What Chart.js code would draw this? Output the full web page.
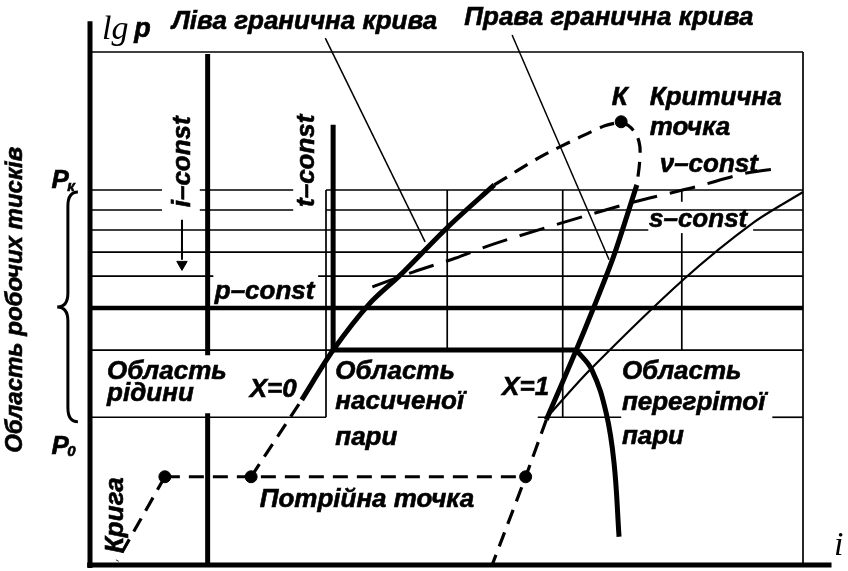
<!DOCTYPE html>
<html>
<head>
<meta charset="utf-8">
<script src="https://cdn.jsdelivr.net/npm/chart.js"></script>
<style>
html, body { margin: 0; padding: 0; background: #fff; }
#wrap { width: 848px; height: 571px; }
</style>
</head>
<body>
<div id="wrap"><canvas id="myChart" width="848" height="571"></canvas></div>
<script>
// i (enthalpy) and lg p, both in % of the frame

// thin isobars: [lg p, i from, i to]
var isobars = [
    [100, 0, 100],
    [73.1, 0, 10.1], [73.1, 15.4, 28.5], [73.1, 33.1, 100],
    [69.2, 0, 10.1], [69.2, 15.4, 28.5], [69.2, 33.1, 100],
    [65.3, 0, 78.3], [65.3, 93.0, 100],
    [61.0, 0, 100],
    [56.3, 0, 17.3], [56.3, 32.0, 100],
    [41.9, 0, 34.1], [41.9, 68.2, 100],
    [28.8, 0, 33.1], [28.8, 62.8, 74.5], [28.8, 95.7, 100]
]
// p-const and the boiling line
var workIsobar = [[50.1, 0, 100]]
var boiling = [[41.9, 34.1, 68.2]]

// thin verticals: [i, lg p from, lg p to]
var thinVerticals = [
    [33.1, 28.8, 73.1],
    [50.1, 41.9, 73.1],
    [66.3, 28.8, 73.1],
    [83.0, 70.8, 73.1], [83.0, 41.9, 64.7],
    [100, 0, 100]
]
// i-const and t-const
var thickVerticals = [
    [16.5, 40.9, 99.6], [16.5, 0, 29.6],
    [34.1, 41.9, 85.8]
]

// saturation curves
var liquidLow = [{x: 22.6, y: 17.2}, {x: 29.7, y: 32.2}]
var liquidLine = [{x: 29.7, y: 32.2}, {x: 34.1, y: 41.9}, {x: 39.3, y: 51.1}, {x: 43.5, y: 56.5}, {x: 50.2, y: 65.9}, {x: 56.7, y: 74.1}]
var liquidHigh = [{x: 56.7, y: 74.1}, {x: 63.1, y: 79.5}, {x: 68.7, y: 83.4}, {x: 72.2, y: 85.6}, {x: 74.5, y: 86.4}]
var vaporHigh = [{x: 74.5, y: 86.4}, {x: 75.9, y: 85.2}, {x: 77.0, y: 82.5}, {x: 77.1, y: 78.9}, {x: 76.7, y: 74.1}]
var vaporLine = [{x: 76.7, y: 74.1}, {x: 73.4, y: 60.0}, {x: 70.5, y: 49.7}, {x: 68.2, y: 41.9}, {x: 64.0, y: 28.3}]
var vaporLow = [{x: 64.0, y: 28.3}, {x: 61.1, y: 17.2}, {x: 56.4, y: 0}]

var tripleLine = [{x: 10.5, y: 17.2}, {x: 61.1, y: 17.2}]
var iceLine = [{x: 10.5, y: 17.2}, {x: 3.8, y: 0.8}]
var triplePoints = [{x: 10.5, y: 17.2}, {x: 22.6, y: 17.2}, {x: 61.1, y: 17.2}]
var criticalPoint = [{x: 74.5, y: 86.4}]

var isentrope = [{x: 64.1, y: 28.8}, {x: 70.1, y: 38.0}, {x: 83.2, y: 55.6}, {x: 93.0, y: 66.7}, {x: 100, y: 72.7}]
var isochore = [{x: 39.6, y: 54.2}, {x: 45.3, y: 57.1}, {x: 51.2, y: 59.8}, {x: 57.1, y: 62.8}, {x: 74.8, y: 70.2}, {x: 84.9, y: 73.7}, {x: 92.1, y: 76.4}, {x: 97.1, y: 77.4}]
var isotherm = [{x: 68.2, y: 41.9}, {x: 70.4, y: 38.0}, {x: 72.4, y: 29.6}, {x: 73.5, y: 19.9}, {x: 74.2, y: 5.5}]

// label leaders
var leftLeader = [{x: 33.0, y: 102.7}, {x: 47.0, y: 63.0}]
var rightLeader = [{x: 59.2, y: 103.3}, {x: 72.8, y: 59.5}]

var iArrow = [{x: 12.9, y: 67.3}, {x: 12.9, y: 59.5}]
var iArrowHead = [{x: 12.9, y: 58.6}]
var yAxis = [{x: 0, y: -0.6}, {x: 0, y: 106}]
var yAxisHead = [{x: 0, y: 107.4}]
var xAxis = [{x: -0.4, y: 0}, {x: 104, y: 0}]
var xAxisHead = [{x: 105.3, y: 0}]

// P0 .. Pк
var workRange = [27.9, 72.7]

var sans = '"Liberation Sans", Arial, sans-serif'
var serif = '"Liberation Serif", "Times New Roman", serif'
var bigFont = 'italic bold 26px ' + sans
var subFont = 'italic bold 15px ' + sans
var stretch = 1.0

var labels = [
    {t: 'Ліва гранична крива', x: 11.5, y: 105.8},
    {t: 'Права гранична крива', x: 52.5, y: 106.6},
    {t: 'К', x: 74.3, y: 91.0, align: 'center'},
    {t: 'Критична', x: 78.5, y: 91.0},
    {t: 'точка', x: 78.5, y: 85.2},
    {t: 'ν–const', x: 79.9, y: 78.0},
    {t: 's–const', x: 78.4, y: 67.3},
    {t: 'p–const', x: 17.5, y: 53.2},
    {t: 'i–const', x: 13.0, y: 78.6, rot: -Math.PI / 2, align: 'center'},
    {t: 't–const', x: 30.4, y: 78.8, rot: -Math.PI / 2, align: 'center'},
    {t: 'Область робочих тисків', x: -10.4, y: 51.7, rot: -Math.PI / 2, align: 'center', font: 'italic bold 24px ' + sans},
    {t: 'P', x: -5.4, y: 74.8},
    {t: 'к', x: -3.2, y: 73.7, font: subFont},
    {t: 'P', x: -5.4, y: 23.0},
    {t: '0', x: -3.2, y: 22.0, font: subFont},
    {t: 'Область', x: 2.4, y: 37.6},
    {t: 'рідини', x: 2.4, y: 33.3},
    {t: 'X=0', x: 22.4, y: 34.1},
    {t: 'Область', x: 34.4, y: 37.6},
    {t: 'насиченої', x: 34.4, y: 31.8},
    {t: 'пари', x: 34.4, y: 24.8},
    {t: 'X=1', x: 57.8, y: 34.5},
    {t: 'Область', x: 74.6, y: 37.6},
    {t: 'перегрітої', x: 74.6, y: 31.6},
    {t: 'пари', x: 74.6, y: 25.0},
    {t: 'Потрійна точка', x: 23.8, y: 12.7},
    {t: 'Крига', x: 3.6, y: 9.7, rot: -Math.PI / 2, align: 'center'},
    {t: 'lg', x: 1.7, y: 104.3, font: 'italic 34px ' + serif, weight: 0},
    {t: 'p', x: 6.2, y: 104.4, font: 'italic bold 27px ' + sans},
    {t: 'i', x: 105.0, y: 3.6, font: 'italic 34px ' + serif, align: 'center', weight: 0}
]

function line(points, width, dash, tension) {
    return {
        data: points,
        borderColor: '#000',
        borderWidth: width,
        borderDash: dash || [],
        tension: tension || 0,
        pointRadius: 0,
        pointHoverRadius: 0,
        fill: false,
        clip: false
    }
}
function dots(points, radius, style, rotation) {
    return {
        data: points,
        showLine: false,
        pointStyle: style || 'circle',
        pointRadius: radius,
        pointRotation: rotation || 0,
        pointBackgroundColor: '#000',
        pointBorderColor: '#000',
        pointBorderWidth: 1,
        clip: false
    }
}
function rows(list, width) {
    return list.map(function (r) { return line([{x: r[1], y: r[0]}, {x: r[2], y: r[0]}], width) })
}
function cols(list, width) {
    return list.map(function (c) { return line([{x: c[0], y: c[1]}, {x: c[0], y: c[2]}], width) })
}

var longDash = [26, 13]
var shortDash = [15, 9]

var datasets = []
    .concat(rows(isobars, 1.7))
    .concat(cols(thinVerticals, 1.7))
    .concat(rows(workIsobar, 4.5))
    .concat(rows(boiling, 5))
    .concat(cols(thickVerticals, 5))
    .concat([
        line(leftLeader, 1.5),
        line(rightLeader, 1.5),
        line(isentrope, 2.2, [], 0.3),
        line(isochore, 3, longDash, 0.3),
        line(isotherm, 5, [], 0.4),
        line(liquidLow, 3.2, shortDash),
        line(liquidLine, 5, [], 0.3),
        line(liquidHigh, 3.2, shortDash, 0.3),
        line(vaporHigh, 3.2, shortDash, 0.4),
        line(vaporLine, 5, [], 0.3),
        line(vaporLow, 3.2, shortDash, 0.2),
        line(tripleLine, 3.2, shortDash),
        line(iceLine, 3.2, shortDash),
        dots(triplePoints, 6),
        dots(criticalPoint, 6),
        line(iArrow, 2),
        dots(iArrowHead, 6, 'triangle', 180),
        line(yAxis, 5),
        dots(yAxisHead, 8, 'triangle', 0),
        line(xAxis, 5),
        dots(xAxisHead, 8, 'triangle', 90)
    ])

var textPlugin = {
    id: 'diagramText',
    afterDatasetsDraw: function (chart) {
        var ctx = chart.ctx
        var sx = chart.scales.x
        var sy = chart.scales.y

        // brace for the working pressure range
        var yTop = sy.getPixelForValue(workRange[1])
        var yBot = sy.getPixelForValue(workRange[0])
        var yMid = (yTop + yBot) / 2
        var xs = sx.getPixelForValue(-3.1)
        var xe = sx.getPixelForValue(-1.7)
        var xt = sx.getPixelForValue(-4.6)
        ctx.save()
        ctx.strokeStyle = '#000'
        ctx.lineWidth = 3
        ctx.beginPath()
        ctx.moveTo(xe, yTop)
        ctx.quadraticCurveTo(xs, yTop, xs, yTop + 14)
        ctx.lineTo(xs, yMid - 14)
        ctx.quadraticCurveTo(xs, yMid, xt, yMid)
        ctx.quadraticCurveTo(xs, yMid, xs, yMid + 14)
        ctx.lineTo(xs, yBot - 14)
        ctx.quadraticCurveTo(xs, yBot, xe, yBot)
        ctx.stroke()
        ctx.restore()

        labels.forEach(function (l) {
            ctx.save()
            ctx.translate(sx.getPixelForValue(l.x), sy.getPixelForValue(l.y))
            if (l.rot) ctx.rotate(l.rot)
            ctx.scale(l.sx || stretch, 1)
            ctx.font = l.font || bigFont
            ctx.textAlign = l.align || 'left'
            ctx.textBaseline = 'middle'
            ctx.fillStyle = '#000'
            ctx.fillText(l.t, 0, 0)
            // a touch heavier, like the printed labels
            var w = l.weight === undefined ? 0.6 : l.weight
            if (w) {
                ctx.strokeStyle = '#000'
                ctx.lineWidth = w
                ctx.strokeText(l.t, 0, 0)
            }
            ctx.restore()
        })
    }
}

var ctx = document.getElementById('myChart')
var myChart = new Chart(ctx, {
    type: 'line',
    data: {datasets: datasets},
    options: {
        responsive: false,
        animation: false,
        devicePixelRatio: 1,
        layout: {autoPadding: false, padding: {left: 90, right: 45, top: 52, bottom: 6}},
        scales: {
            x: {type: 'linear', min: 0, max: 100, display: false},
            y: {type: 'linear', min: 0, max: 100, display: false}
        },
        plugins: {legend: {display: false}, tooltip: {enabled: false}}
    },
    plugins: [textPlugin]
})
</script>
</body>
</html>
